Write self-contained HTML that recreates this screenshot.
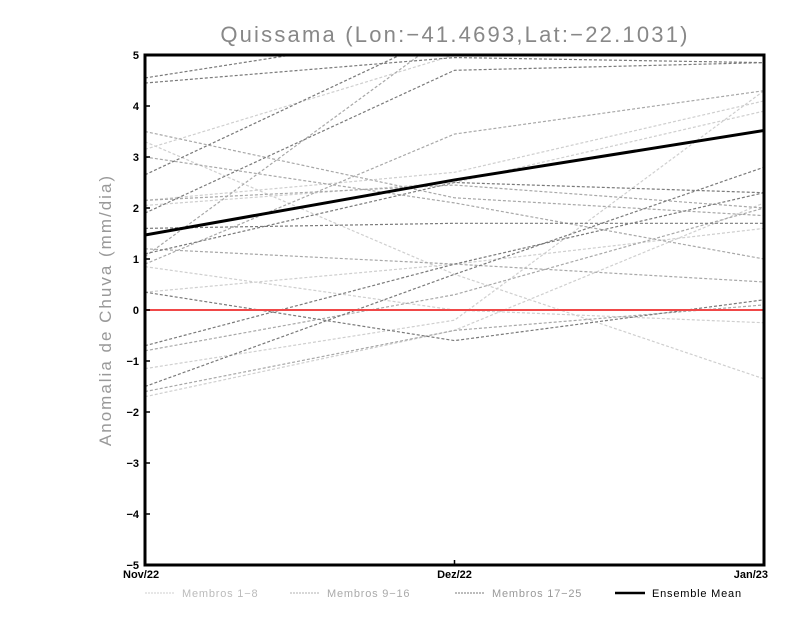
<!DOCTYPE html>
<html><head><meta charset="utf-8"><style>
body{margin:0;background:#fff;}
svg{display:block;font-family:"Liberation Sans",sans-serif;}
</style></head><body>
<svg id="chart" width="800" height="618">
<text x="455" y="42" text-anchor="middle" font-size="22" fill="#888" letter-spacing="2.2">Quissama (Lon:−41.4693,Lat:−22.1031)</text>
<text transform="translate(111,310) rotate(-90)" text-anchor="middle" font-size="17" fill="#999" letter-spacing="2">Anomalia de Chuva (mm/dia)</text>
<defs><clipPath id="clip"><rect x="145" y="55" width="619" height="510"/></clipPath></defs>
<g id="series" clip-path="url(#clip)"></g>
<g id="axes"></g>
<g id="legend"></g>
</svg>
<script>
const categories=["Nov/22","Dez/22","Jan/23"];
const yTicks=[-5,-4,-3,-2,-1,0,1,2,3,4,5];
const membersLight=[[3.15,5.0,5.3],[3.3,0.7,-1.35],[2.15,2.7,4.1],[2.05,2.5,3.9],[0.85,0.0,-0.25],[0.35,0.9,1.6],[-1.15,-0.2,4.3],[-1.7,-0.4,2.1]];
const membersMid=[[3.5,2.2,1.85],[3.0,2.1,1.0],[2.15,2.45,2.0],[1.2,0.9,0.55],[0.9,3.45,4.3],[-0.8,0.3,2.0],[-1.6,-0.4,0.1],[1.05,5.5,6.0]];
const membersDark=[[4.55,5.5,6.0],[2.65,5.5,6.0],[4.45,4.95,4.85],[1.9,4.7,4.85],[1.1,2.5,2.3],[1.6,1.7,1.7],[0.35,-0.6,0.2],[-0.7,0.9,2.3],[-1.5,0.7,2.8]];
const ensembleMean=[1.47,2.55,3.52];
const legendLabels=["Membros 1-8","Membros 9-16","Membros 17-25","Ensemble Mean"];

const NS="http://www.w3.org/2000/svg";
const X0=145,X1=764,Y0=55,Y1=565;
const xs=i=>X0+i*(X1-X0)/(categories.length-1);
const ys=v=>Y1-(v+5)*(Y1-Y0)/10;
function mk(tag,attrs,parent){const e=document.createElementNS(NS,tag);for(const k in attrs)e.setAttribute(k,attrs[k]);parent.appendChild(e);return e;}
const series=document.getElementById('series'),axes=document.getElementById('axes'),legend=document.getElementById('legend');
function drawGroup(arr,color,name){arr.forEach((d,j)=>{
 const p=mk('polyline',{points:d.map((v,i)=>xs(i)+','+ys(v)).join(' '),fill:'none',stroke:color,'stroke-width':1.2,'stroke-dasharray':'3,2'},series);
 
 
});}
drawGroup(membersLight,'#cfcfcf','member-light');
drawGroup(membersMid,'#a8a8a8','member-mid');
drawGroup(membersDark,'#7a7a7a','member-dark');
const z=mk('line',{x1:X0,x2:X1,y1:ys(0),y2:ys(0),stroke:'#f04848','stroke-width':2},series);


const em=mk('polyline',{points:ensembleMean.map((v,i)=>xs(i)+','+ys(v)).join(' '),fill:'none',stroke:'#000','stroke-width':3},series);


const fr=mk('rect',{x:X0,y:Y0,width:X1-X0,height:Y1-Y0,fill:'none',stroke:'#000','stroke-width':3},axes);


yTicks.forEach(v=>{
 const t=mk('text',{x:X0-6,y:ys(v)+4,'text-anchor':'end','font-size':11,'font-weight':'bold',fill:'#000'},axes);
 t.textContent=String(v).replace('-','−');
 
 
 mk('line',{x1:X0,x2:X0+5,y1:ys(v),y2:ys(v),stroke:'#000','stroke-width':1.5},axes);
});
categories.forEach((c,i)=>{
 const anchor=i===0?'start':(i===categories.length-1?'end':'middle');
 const t=mk('text',{x:xs(i)+(i===0?-22:(i===2?4:0)),y:578,'text-anchor':anchor,'font-size':11,'font-weight':'bold',fill:'#000'},axes);
 t.textContent=c;
 
 
 mk('line',{x1:xs(i),x2:xs(i),y1:Y1,y2:Y1-5,stroke:'#000','stroke-width':1.5},axes);
});
const legX=[145,290,455,615],legCol=['#cfcfcf','#b0b0b0','#7a7a7a','#000'],legTxt=['#bbb','#aaa','#999','#000'];
legendLabels.forEach((l,i)=>{
 mk('line',{x1:legX[i],x2:legX[i]+30,y1:593,y2:593,stroke:legCol[i],'stroke-width':i===3?2.5:1,'stroke-dasharray':i===3?'':'2,1'},legend);
 const t=mk('text',{x:legX[i]+37,y:597,'font-size':11,fill:legTxt[i],'letter-spacing':0.8},legend);
 t.textContent=l.replace('-','−');
 
 
});
</script>
</body></html>
